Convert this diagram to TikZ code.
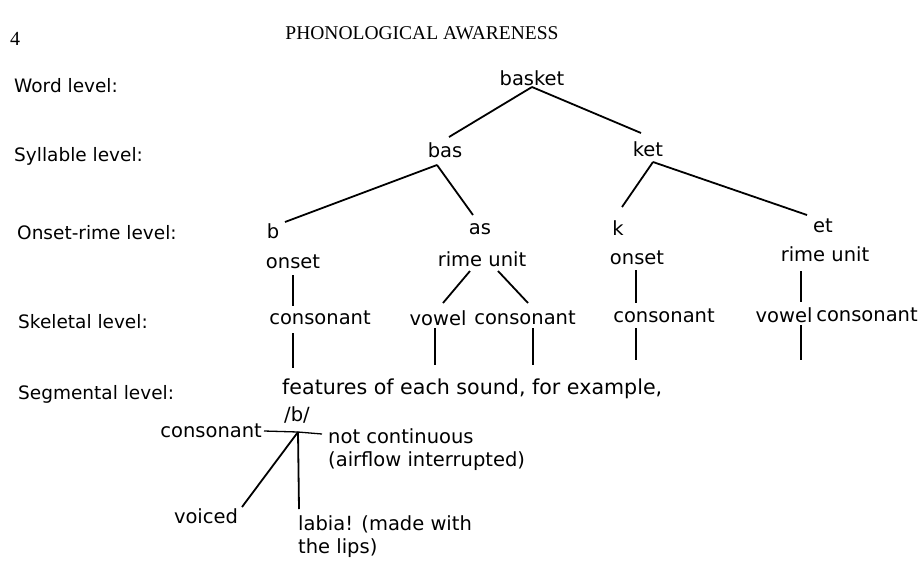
\documentclass[tikz,border=0pt]{standalone}
\usepackage{fontspec}
\setmainfont{DejaVu Sans}
\newfontfamily\titlefont{Liberation Serif}
\begin{document}
\begin{tikzpicture}[x=1pt,y=-1pt,
  lbl/.style={anchor=west,inner sep=0pt,font=\fontsize{18.5}{22}\selectfont},
  wd/.style={inner sep=0pt,font=\fontsize{19.5}{23}\selectfont},
  ln/.style={line width=1.8pt},
  thin/.style={line width=1.3pt}]
\useasboundingbox (0,0) rectangle (921,560);
% header
\node[inner sep=0pt,font=\titlefont\fontsize{20}{22}\selectfont] (pagenum) at (15,39) {4};
\node[inner sep=0pt,font=\titlefont\fontsize{19.5}{22}\selectfont] (title) at (422,33) {PHONOLOGICAL AWARENESS};
% level labels
\node[lbl] (Lword) at (14,86) {Word level:};
\node[lbl] (Lsyl) at (14,156) {Syllable level:};
\node[lbl] (Lons) at (17,233) {Onset-rime level:};
\node[lbl] (Lske) at (18,322) {Skeletal level:};
\node[lbl] (Lseg) at (18,394) {Segmental level:};
% tree nodes
\node[wd] (basket) at (532,78) {basket};
\node[wd] (bas) at (445,150) {bas};
\node[wd] (ket) at (648,149) {ket};
\node[wd] (b) at (273,231) {b};
\node[wd] (as) at (480,229) {as};
\node[wd] (k) at (618,228) {k};
\node[wd] (et) at (823,226) {et};
\node[wd] (on1) at (293,262) {onset};
\node[wd] (ri1) at (482,259) {rime unit};
\node[wd] (on2) at (637,258) {onset};
\node[wd] (ri2) at (825,254) {rime unit};
\node[wd] (c1) at (320,318) {consonant};
\node[wd] (v1) at (438,318) {vowel};
\node[wd] (c2) at (525,318) {consonant};
\node[wd] (c3) at (664,316) {consonant};
\node[wd] (v2) at (784,315) {vowel};
\node[wd] (c4) at (867,315) {consonant};
\node[wd,anchor=west,font=\fontsize{20.6}{23}\selectfont] (feat) at (282,389) {features of each sound, for example,};
\node[wd] (sb) at (297,415) {/b/};
\node[wd,anchor=east] (fcons) at (262,431) {consonant};
\node[wd,anchor=north west,align=left] (fcont) at (328,428) {not continuous\\(airflow interrupted)};
\node[wd] (fvoi) at (206,516) {voiced};
\node[wd,anchor=north west,align=left] (flab) at (298,515) {labia! (made with\\the lips)};
\coordinate (hub) at (298,432);
% connectors
\draw[ln] ([shift={(0,9)}]basket.center) -- ([shift={(4,-13)}]bas.center);
\draw[ln] ([shift={(0,9)}]basket.center) -- ([shift={(-7,-16)}]ket.center);
\draw[ln] ([shift={(-8,15)}]bas.center) -- ([shift={(12,-9)}]b.center);
\draw[ln] ([shift={(-8,15)}]bas.center) -- ([shift={(-7,-14)}]as.center);
\draw[ln] ([shift={(5,13)}]ket.center) -- ([shift={(4,-21)}]k.center);
\draw[ln] ([shift={(5,13)}]ket.center) -- ([shift={(-16,-11)}]et.center);
\draw[ln] ([shift={(0,13)}]on1.center) -- ([shift={(-27,-12)}]c1.center);
\draw[ln] ([shift={(-12,12)}]ri1.center) -- ([shift={(5,-15)}]v1.center);
\draw[ln] ([shift={(16,12)}]ri1.center) -- ([shift={(3,-15)}]c2.center);
\draw[ln] ([shift={(-1,12)}]on2.center) -- ([shift={(-28,-13)}]c3.center);
\draw[ln] ([shift={(-24,17)}]ri2.center) -- ([shift={(17,-13)}]v2.center);
\draw[ln] ([shift={(-27,15)}]c1.center) -- ([shift={(11,-21)}]feat.west);
\draw[ln] ([shift={(-3,10)}]v1.center) -- ([shift={(153,-24)}]feat.west);
\draw[ln] ([shift={(8,10)}]c2.center) -- ([shift={(251,-24)}]feat.west);
\draw[ln] ([shift={(-28,12)}]c3.center) -- ([shift={(354,-29)}]feat.west);
\draw[ln] ([shift={(17,10)}]v2.center) -- ([shift={(519,-29)}]feat.west);
\draw[thin] ([xshift=2pt]fcons.east) -- (hub);
\draw[thin] (hub) -- ([shift={(-6,6)}]fcont.north west);
\draw[ln] (hub) -- ([shift={(1,-6)}]flab.north west);
\draw[ln] (hub) -- ([shift={(36,-9)}]fvoi.center);
\end{tikzpicture}
\end{document}
